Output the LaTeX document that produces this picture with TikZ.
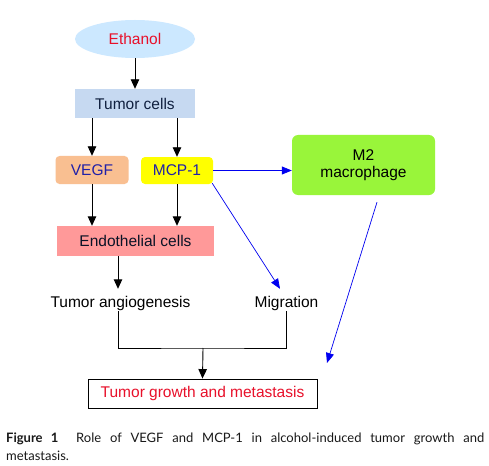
\documentclass[tikz,border=0pt]{standalone}
\usepackage{fontspec}
\setmainfont{Liberation Sans}
\newfontfamily\capfont{Lato}
\usetikzlibrary{arrows.meta,calc,shapes.geometric}
\definecolor{ethfill}{HTML}{CCE8FF}
\definecolor{tcfill}{HTML}{C6D9F1}
\definecolor{vegffill}{HTML}{F9BF91}
\definecolor{mcpfill}{HTML}{FFFF00}
\definecolor{mtwofill}{HTML}{99F53A}
\definecolor{endofill}{HTML}{FF9999}
\definecolor{redtext}{HTML}{E8102A}
\definecolor{bluetext}{HTML}{2020A8}
\definecolor{navytext}{HTML}{10203F}
\definecolor{bluearrow}{HTML}{0000F0}
\begin{document}
\begin{tikzpicture}[x=1pt,y=-1pt,
  every node/.style={font=\fontsize{15.5}{18}\selectfont, inner sep=0pt},
  blk/.style={draw=black, line width=0.9pt, -{Triangle[width=8.5pt,length=9.5pt]}},
  blu/.style={draw=bluearrow, line width=0.7pt, -{Triangle[width=8pt,length=10pt]}, fill=none},
  plain/.style={draw=black, line width=0.9pt},
  captext/.style={anchor=base west, font=\capfont\fontsize{13}{15}\selectfont, text=black!90}]
\useasboundingbox (0,0) rectangle (489,465);
\fill[white] (0,0) rectangle (489,465);

\node[ellipse, fill=ethfill, minimum width=120pt, minimum height=38pt, text=redtext] (eth) at (135,39) {Ethanol};
\node[rectangle, fill=tcfill, minimum width=120pt, minimum height=29pt, text=navytext] (tc) at (135,103.5) {Tumor cells};
\node[rectangle, rounded corners=4pt, fill=vegffill, minimum width=73pt, minimum height=28pt, text=bluetext] (vegf) at (92,170) {VEGF};
\node[rectangle, rounded corners=4pt, fill=mcpfill, minimum width=72pt, minimum height=27pt, text=bluetext] (mcp) at (177,170.5) {MCP-1};
\node[rectangle, rounded corners=6pt, fill=mtwofill, minimum width=143pt, minimum height=60pt, align=center] (m2) at (363.5,165) {M2\\[-1pt]macrophage};
\node[rectangle, fill=endofill, minimum width=157pt, minimum height=30pt, text=navytext!60!black] (endo) at (135.5,241) {Endothelial cells};
\node[minimum height=30pt] (angio) at (120.5,303) {Tumor angiogenesis};
\node[minimum height=30pt] (migr) at (286.5,303) {Migration};
\node[rectangle, draw=black, line width=0.9pt, minimum width=229pt, minimum height=29pt, text=redtext] (res) at (202.5,393.5) {Tumor growth and metastasis};

\coordinate (join) at (203,348);
\coordinate (mtwoend) at (327,363);

\draw[blk] (eth.south) -- (tc.north);
\draw[blk] (tc.south -| vegf.north) -- (vegf.north);
\draw[blk] (tc.south -| mcp.north) -- (mcp.north);
\draw[blk] (vegf.south) -- (vegf.south |- endo.north);
\draw[blk] (mcp.south) -- (mcp.south |- endo.north);
\draw[blk] ([xshift=-17.5pt]endo.south) -- ([xshift=-2.5pt,yshift=-1pt]angio.north);
\draw[plain] ([xshift=-2.5pt,yshift=7pt]angio.south) |- (join) -| ([yshift=7pt]migr.south);
\draw[blk] (join) -- (res.north);
\draw[blu] (mcp.east) -- (mcp.east -| m2.west);
\draw[blu] ([xshift=-1pt,yshift=1pt]mcp.south east) -- ([xshift=-6.5pt,yshift=-1pt]migr.north);
\draw[blu] ([xshift=13.5pt,yshift=-7pt]m2.south) -- (mtwoend);

\node[captext] (cap1) at (6,442)
  {\makebox[478pt][s]{\textbf{Figure 1} \ Role of VEGF and MCP-1 in alcohol-induced tumor growth and}};
\node[captext] (cap2) at (6,460) {metastasis.};
\end{tikzpicture}
\end{document}
